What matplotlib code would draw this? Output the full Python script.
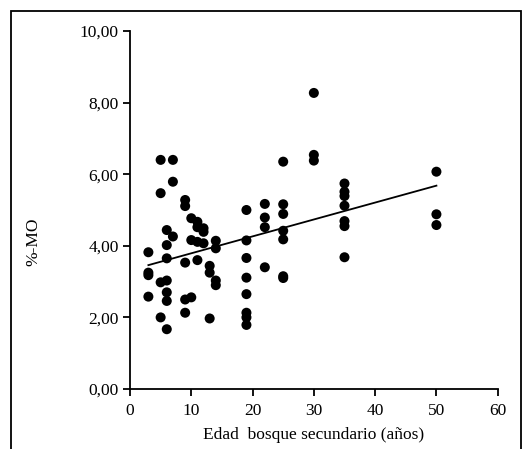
import numpy as np
import matplotlib
matplotlib.use("Agg")
import matplotlib.pyplot as plt
from matplotlib.patches import Rectangle
from matplotlib.ticker import FuncFormatter

# Edad del bosque secundario (años) y %-MO medido
edad = [3, 3, 3, 3,
        5, 5, 5, 5,
        6, 6, 6, 6, 6, 6, 6,
        7, 7, 7,
        9, 9, 9, 9, 9,
        10, 10, 10,
        11, 11, 11, 11,
        12, 12, 12,
        13, 13, 13,
        14, 14, 14, 14,
        19, 19, 19, 19, 19, 19, 19, 19,
        22, 22, 22, 22,
        25, 25, 25, 25, 25, 25, 25,
        30, 30, 30,
        35, 35, 35, 35, 35, 35, 35,
        50, 50, 50]
mo = [3.82, 3.25, 3.18, 2.58,
      6.40, 5.47, 2.98, 2.00,
      4.44, 4.02, 3.65, 3.03, 2.70, 2.46, 1.67,
      6.40, 5.79, 4.26,
      5.28, 5.11, 3.53, 2.50, 2.13,
      4.77, 4.16, 2.56,
      4.67, 4.52, 4.11, 3.60,
      4.49, 4.39, 4.07,
      3.44, 3.25, 1.97,
      4.14, 3.93, 3.03, 2.90,
      5.00, 4.15, 3.66, 3.11, 2.65, 2.13, 2.00, 1.79,
      5.17, 4.79, 4.52, 3.40,
      6.35, 5.16, 4.89, 4.42, 4.18, 3.15, 3.10,
      8.27, 6.54, 6.38,
      5.74, 5.51, 5.39, 5.12, 4.69, 4.55, 3.68,
      6.07, 4.88, 4.58]

# recta de regresion (extremos)
ajuste_x = [3, 50]
ajuste_y = [3.46, 5.68]

xticks = [0, 10, 20, 30, 40, 50, 60]
yticks = [0, 2, 4, 6, 8, 10]

plt.rcParams['font.family'] = ['Liberation Serif', 'DejaVu Serif']

fig = plt.figure(figsize=(5.22, 4.49), dpi=100)
ax = fig.add_axes([130 / 522, 1 - 389 / 449, 367.7 / 522, 358 / 449])

ax.scatter(edad, mo, s=52, color='black', edgecolors='none', zorder=3)
ax.plot(ajuste_x, ajuste_y, color='black', linewidth=1.3, zorder=2)

ax.set_xlim(0, 60)
ax.set_ylim(0, 10)
ax.set_xticks(xticks)
ax.set_yticks(yticks)
ax.yaxis.set_major_formatter(FuncFormatter(lambda v, p: f"{v:.2f}".replace('.', ',')))

for s in ['top', 'right']:
    ax.spines[s].set_visible(False)
for s in ['left', 'bottom']:
    ax.spines[s].set_linewidth(1.3)
ax.tick_params(direction='out', length=5, width=1.3, labelsize=12.5)
ax.tick_params(axis='x', pad=5)
ax.tick_params(axis='y', pad=3)

ax.set_xlabel('Edad  bosque secundario (años)', fontsize=12.5, labelpad=6)
ax.set_ylabel('%-MO', fontsize=12.5)
ax.yaxis.set_label_coords(-0.24, 0.41)

# marco exterior de la figura
fig.patches.append(Rectangle((11 / 522, -0.1), 510 / 522, 1.1 - 11 / 449,
                             transform=fig.transFigure, fill=False,
                             edgecolor='black', linewidth=1.3))

fig.savefig('out.png', dpi=100)
